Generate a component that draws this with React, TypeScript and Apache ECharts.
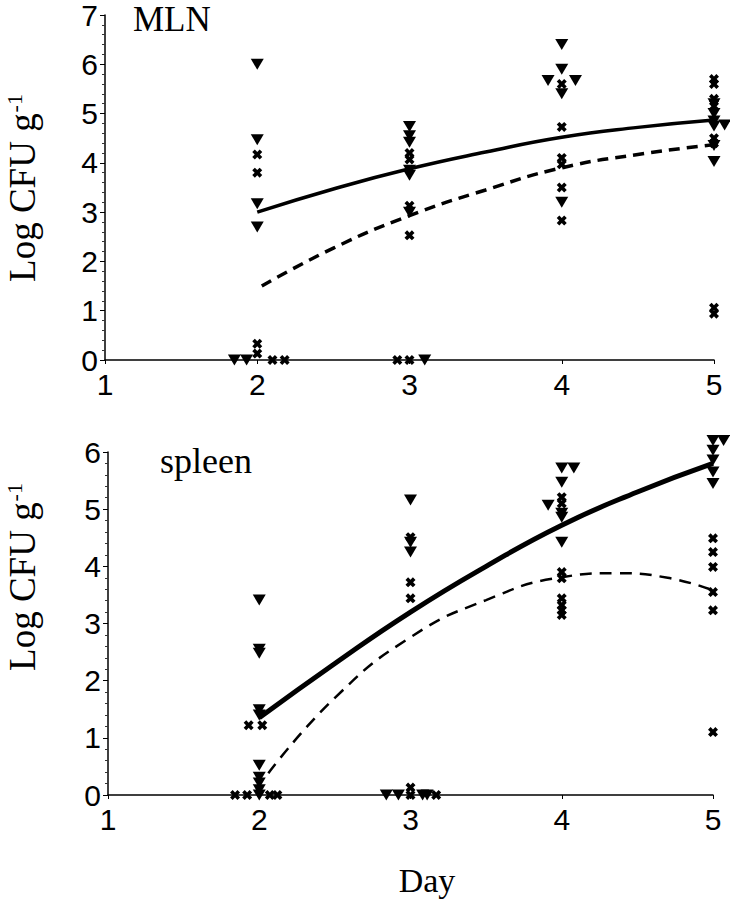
import React, { useEffect, useRef } from "react";
import * as echarts from "echarts";

// ---------- data ----------
const xTicks = [1, 2, 3, 4, 5];
const mlnYTicks = [0, 1, 2, 3, 4, 5, 6, 7];
const spleenYTicks = [0, 1, 2, 3, 4, 5, 6];

// MLN panel: triangles (solid-line group)
const mlnTriangles: number[][] = [
  [2, 6.0], [2, 4.47], [2, 3.17], [2, 2.7], [1.85, 0], [1.93, 0],
  [3, 4.74], [3, 4.55], [3, 4.42], [3, 3.85], [3, 3.75], [3, 3.0], [3.1, 0],
  [4, 6.4], [4, 5.9], [3.91, 5.67], [4.09, 5.67], [4, 5.4], [4, 3.2],
  [5, 5.2], [5, 5.0], [5, 4.85], [5, 4.75], [5.07, 4.77], [5, 4.35], [5, 4.03],
];
// MLN panel: crosses (dashed-line group)
const mlnCrosses: number[][] = [
  [2, 4.17], [2, 3.8], [2, 0.33], [2, 0.13], [2.1, 0], [2.18, 0],
  [3, 4.2], [3, 4.07], [3, 3.13], [3, 2.53], [2.92, 0], [3.0, 0],
  [4, 5.6], [4, 4.73], [4, 4.1], [4, 3.97], [4, 3.5], [4, 2.83],
  [5, 5.7], [5, 5.6], [5, 5.3], [5, 5.15], [5, 4.5], [5, 4.4], [5, 1.06], [5, 0.94],
];
const mlnSolidFit: number[][] = [
  [2, 3.0], [2.5, 3.47], [3, 3.88], [3.5, 4.22], [4, 4.52], [4.5, 4.72], [5, 4.87],
];
const mlnDashedFit: number[][] = [
  [2.03, 1.5], [2.5, 2.27], [3, 2.93], [3.5, 3.45], [4, 3.9], [4.5, 4.17], [5, 4.37],
];

// spleen panel
const spleenTriangles: number[][] = [
  [2, 3.41], [2, 2.55], [2, 2.48], [2, 1.49], [2, 1.4], [2, 0.52], [2, 0.31], [2, 0.21], [2, 0.09], [2, 0],
  [3, 5.16], [3, 4.42], [3, 4.25], [2.84, 0], [2.92, 0], [3.08, 0], [3.11, 0],
  [4, 5.72], [4.08, 5.72], [4, 5.47], [3.91, 5.07], [4, 4.93], [4, 4.86], [4, 4.42],
  [5, 6.2], [5.07, 6.2], [5, 6.03], [5, 5.86], [5, 5.65], [5, 5.45],
];
const spleenCrosses: number[][] = [
  [1.93, 1.22], [2.02, 1.22], [1.84, 0], [1.92, 0], [2.07, 0], [2.12, 0],
  [3, 4.51], [3, 3.72], [3, 3.44], [3, 0.13], [3, 0], [3.17, 0],
  [4, 5.21], [4, 5.1], [4, 3.9], [4, 3.79], [4, 3.44], [4, 3.32], [4, 3.23], [4, 3.15],
  [5, 4.49], [5, 4.25], [5, 3.99], [5, 3.55], [5, 3.23], [5, 1.1],
];
const spleenSolidFit: number[][] = [
  [2, 1.35], [2.5, 2.3], [3, 3.2], [3.5, 4.0], [4, 4.72], [4.5, 5.3], [5, 5.8],
];
const spleenDashedFit: number[][] = [
  [2.06, 0.38], [2.5, 1.7], [3, 2.76], [3.5, 3.41], [4, 3.81], [4.35, 3.88], [4.7, 3.8], [5, 3.58],
];

const panelTitles = ["MLN", "spleen"];
const xName = "Day";

// ---------- styles ----------
const SANS = "Liberation Sans";
const SERIF = "Liberation Serif";
const CROSS =
  "path://M0,2.6 L2.6,0 L5,2.4 L7.4,0 L10,2.6 L7.6,5 L10,7.4 L7.4,10 L5,7.6 L2.6,10 L0,7.4 L2.4,5 Z";

function xAxisCfg(gridIndex: number) {
  return {
    type: "value",
    gridIndex,
    min: xTicks[0],
    max: xTicks[xTicks.length - 1],
    interval: 1,
    axisLine: { show: true, lineStyle: { color: "#000", width: 1.5 } },
    axisTick: { show: true, length: 4, lineStyle: { color: "#000" } },
    axisLabel: {
      color: "#000",
      fontFamily: SANS,
      fontSize: 30,
      margin: 9,
    },
    splitLine: { show: false },
  };
}

function yAxisCfg(gridIndex: number, ticks: number[]) {
  return {
    type: "value",
    gridIndex,
    min: ticks[0],
    max: ticks[ticks.length - 1],
    interval: 1,
    axisLine: { show: true, lineStyle: { color: "#000", width: 1.5 } },
    axisTick: { show: true, length: 5, lineStyle: { color: "#000" } },
    minorTick: { show: true, splitNumber: 5, length: 3, lineStyle: { color: "#333" } },
    axisLabel: {
      color: "#000",
      fontFamily: SANS,
      fontSize: 30,
      margin: 7,
    },
    splitLine: { show: false },
    minorSplitLine: { show: false },
  };
}

function scatter(data: number[][], idx: number, kind: "tri" | "cross") {
  return {
    type: "scatter",
    xAxisIndex: idx,
    yAxisIndex: idx,
    data,
    clip: false,
    symbol: kind === "tri" ? "triangle" : CROSS,
    symbolRotate: kind === "tri" ? 180 : 0,
    symbolSize: kind === "tri" ? [13, 11] : [10, 10],
    itemStyle: { color: "#000", opacity: 1 },
    z: 3,
  };
}

function fit(data: number[][], idx: number, dashed: boolean, width: number, dash?: number[]) {
  return {
    type: "line",
    xAxisIndex: idx,
    yAxisIndex: idx,
    data,
    smooth: true,
    showSymbol: false,
    symbol: "none",
    clip: false,
    lineStyle: {
      color: "#000",
      width,
      type: dashed ? dash || [10, 6] : "solid",
    },
    z: 2,
  };
}

function yNameText(x: number, y: number) {
  return {
    type: "text",
    x,
    y,
    rotation: Math.PI / 2,
    style: {
      text: "{a|Log CFU g}{s|-1}",
      align: "center",
      verticalAlign: "middle",
      fill: "#000",
      rich: {
        a: { fontFamily: SERIF, fontSize: 37, lineHeight: 38, verticalAlign: "bottom", fill: "#000" },
        s: { fontFamily: SERIF, fontSize: 22, lineHeight: 38, verticalAlign: "top", fill: "#000", padding: [0, 0, 0, 1] },
      },
    },
  };
}

export default function App() {
  const ref = useRef<HTMLDivElement>(null);
  useEffect(() => {
    if (!ref.current) return;
    const chart = echarts.init(ref.current, undefined, { renderer: "svg" });
    chart.setOption({
      animation: false,
      backgroundColor: "#fff",
      grid: [
        { left: 105, top: 10, width: 609, height: 350 },
        { left: 108, top: 452, width: 605, height: 343 },
      ],
      xAxis: [xAxisCfg(0), xAxisCfg(1)],
      yAxis: [yAxisCfg(0, mlnYTicks), yAxisCfg(1, spleenYTicks)],
      series: [
        fit(mlnSolidFit, 0, false, 3.5),
        fit(mlnDashedFit, 0, true, 3.5, [11, 7]),
        scatter(mlnTriangles, 0, "tri"),
        scatter(mlnCrosses, 0, "cross"),
        fit(spleenSolidFit, 1, false, 5),
        fit(spleenDashedFit, 1, true, 2.5, [12, 8]),
        scatter(spleenTriangles, 1, "tri"),
        scatter(spleenCrosses, 1, "cross"),
      ],
      graphic: [
        {
          type: "text",
          left: 133,
          top: 2,
          style: { text: panelTitles[0], fontFamily: SERIF, fontSize: 35, fill: "#000" },
        },
        {
          type: "text",
          left: 160,
          top: 443,
          style: { text: panelTitles[1], fontFamily: SERIF, fontSize: 36, fill: "#000" },
        },
        {
          type: "text",
          x: 427,
          y: 880,
          style: {
            text: xName,
            fontFamily: SERIF,
            fontSize: 34,
            fill: "#000",
            align: "center",
            verticalAlign: "middle",
          },
        },
        yNameText(22, 188),
        yNameText(22, 577),
      ],
    });
    return () => chart.dispose();
  }, []);
  return (
    <div
      ref={ref}
      style={{ position: "absolute", left: 0, top: 0, width: 730, height: 899 }}
    />
  );
}
